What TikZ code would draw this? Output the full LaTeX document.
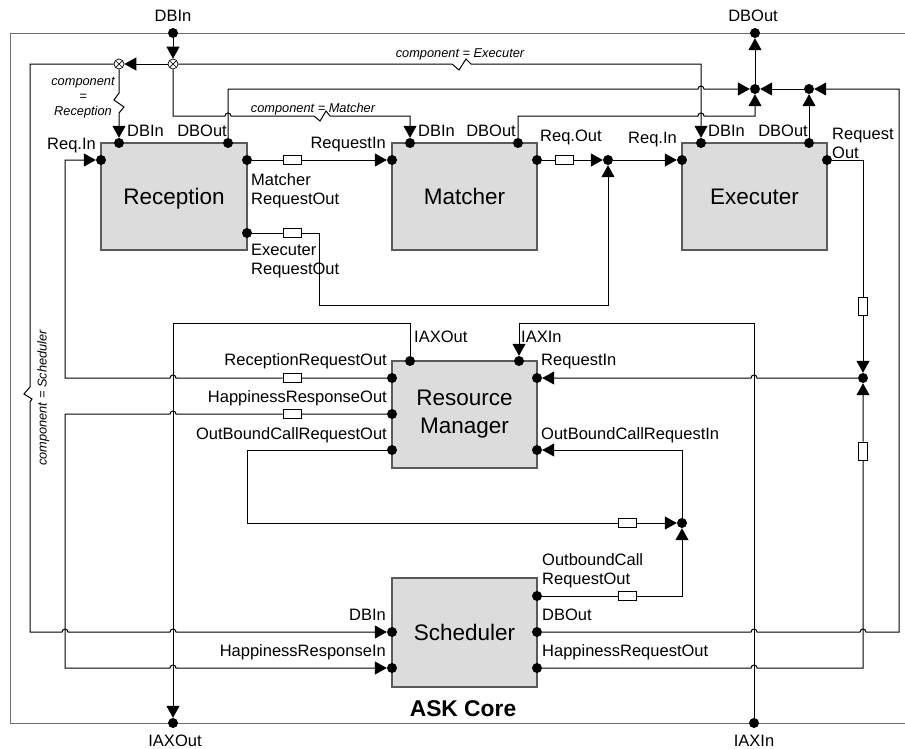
\documentclass[tikz,border=0pt]{standalone}
\usepackage{fontspec}
\setmainfont{Liberation Sans}
\usetikzlibrary{arrows.meta}
\definecolor{boxfill}{RGB}{220,220,220}
\definecolor{boxline}{RGB}{90,90,90}
\definecolor{framec}{RGB}{110,110,110}
\begin{document}
\begin{tikzpicture}[x=1pt,y=-1pt,
  comp/.style={draw=boxline, fill=boxfill, line width=1.2pt, inner sep=0pt,
    font=\fontsize{22.5}{28}\selectfont, align=center},
  port/.style={circle, fill=black, inner sep=0pt, minimum size=10pt},
  xjoin/.style={circle, draw=black, fill=white, line width=0.7pt, inner sep=0pt, minimum size=10pt,
    path picture={\draw[line width=0.7pt]
      (path picture bounding box.south west) -- (path picture bounding box.north east)
      (path picture bounding box.north west) -- (path picture bounding box.south east);}},
  sigh/.style={draw=black, fill=white, line width=0.8pt, inner sep=0pt,
    minimum width=18pt, minimum height=9pt},
  sigv/.style={sigh, minimum width=9pt, minimum height=18pt},
  wire/.style={draw=black, line width=1pt},
  conn/.style={wire, -{Triangle[length=12pt,width=13pt]}},
  lbl/.style={inner sep=0pt, font=\fontsize{16.5}{19}\selectfont},
  cond/.style={inner sep=0pt, font=\fontsize{12.8}{15}\selectfont\itshape},
]
\useasboundingbox (0,0) rectangle (905,748);
\clip (0,0) rectangle (905,748);

% enclosing component frame
\draw[draw=framec, line width=1pt] (915,33) -- (10,33) -- (10,723) -- (915,723);

% components
\node[comp, minimum width=146pt, minimum height=107pt, text height=16pt, text depth=0pt]
  (rec) at (174,196.5) {Reception};
\node[comp, minimum width=145pt, minimum height=107pt, text height=16pt, text depth=0pt]
  (mat) at (464.5,196.5) {Matcher};
\node[comp, minimum width=145pt, minimum height=107pt, text height=16pt, text depth=0pt]
  (exe) at (754.5,196.5) {Executer};
\node[comp, minimum width=145pt, minimum height=107pt]
  (rm) at (464.5,414.5) {Resource\\Manager};
\node[comp, minimum width=145pt, minimum height=109pt, text height=16pt, text depth=0pt]
  (sch) at (464.5,632.5) {Scheduler};

% boundary ports
\node[port] (p-dbin) at (173,33) {};
\node[port] (p-dbout) at (755,33) {};
\node[port] (p-iaxout) at (173,723) {};
\node[port] (p-iaxin) at (754,723) {};

% component ports
\node[port] (rec-reqin) at (101,160) {};
\node[port] (rec-dbin) at (119,143) {};
\node[port] (rec-dbout) at (228,143) {};
\node[port] (rec-mro) at (247,160) {};
\node[port] (rec-ero) at (247,233) {};

\node[port] (mat-reqin) at (392,160) {};
\node[port] (mat-dbin) at (410,143) {};
\node[port] (mat-dbout) at (518,143) {};
\node[port] (mat-reqout) at (537,160) {};

\node[port] (exe-reqin) at (682,160) {};
\node[port] (exe-dbin) at (701,143) {};
\node[port] (exe-dbout) at (809,143) {};
\node[port] (exe-reqout) at (827,160) {};

\node[port] (rm-iaxout) at (410,361) {};
\node[port] (rm-iaxin) at (519,361) {};
\node[port] (rm-rro) at (392,378) {};
\node[port] (rm-hro) at (392,414) {};
\node[port] (rm-obcro) at (392,450) {};
\node[port] (rm-reqin) at (537,378) {};
\node[port] (rm-obcri) at (537,450) {};

\node[port] (sch-dbin) at (392,632) {};
\node[port] (sch-hri) at (392,668) {};
\node[port] (sch-obcro) at (537,596) {};
\node[port] (sch-dbout) at (537,632) {};
\node[port] (sch-hro) at (537,668) {};

% junctions
\node[xjoin] (x1) at (173,64) {};
\node[xjoin] (x2) at (119,64) {};
\node[port] (j1) at (755,89) {};
\node[port] (j2) at (809,89) {};
\node[port] (j3) at (608,160) {};
\node[port] (j4) at (863,378) {};
\node[port] (j5) at (682,523) {};

% delay elements on the request lines
\node[sigh] (r1) at (292,160) {};
\node[sigh] (r2) at (292,233) {};
\node[sigh] (r3) at (564,160) {};
\node[sigv] (r4) at (863,306) {};
\node[sigh] (r5) at (292,378) {};
\node[sigh] (r6) at (292,414) {};
\node[sigh] (r7) at (627,523) {};
\node[sigh] (r8) at (627,596) {};
\node[sigv] (r9) at (863,451) {};

% database connections
\draw[conn] (p-dbin) -- (x1);
\draw[conn] (x1) -- (x2);
\draw[conn] (x2) -- (119,93) -- (114,100) -- (124,107) -- (119,113) -- (rec-dbin);
\draw[conn] (x2) -- (30,64) -- (30,387) -- (24,394) -- (32,399) -- (30,402) -- (30,632)
  -- (62,632) .. controls (62,628) and (68,628) .. (68,632)
  -- (170,632) .. controls (170,628) and (176,628) .. (176,632) -- (sch-dbin);
\draw[conn] (x1) -- (452,64) -- (459,70) -- (466,59) -- (471,64) -- (701,64) -- (exe-dbin);
\draw[conn] (x1) -- (173,116)
  -- (225,116) .. controls (225,112) and (231,112) .. (231,116)
  -- (314,116) -- (320,121) -- (326,111) -- (330,116) -- (410,116) -- (mat-dbin);
\draw[conn] (rec-dbout) -- (228,89)
  -- (698,89) .. controls (698,85) and (704,85) .. (704,89) -- (j1);
\draw[conn] (mat-dbout) -- (518,116)
  -- (698,116) .. controls (698,112) and (704,112) .. (704,116) -- (755,116) -- (j1);
\draw[conn] (j2) -- (j1);
\draw[conn] (j1) -- (p-dbout);
\draw[conn] (exe-dbout) -- (j2);
\draw[conn] (sch-dbout)
  -- (751,632) .. controls (751,628) and (757,628) .. (757,632)
  -- (860,632) .. controls (860,628) and (866,628) .. (866,632)
  -- (899,632) -- (899,89) -- (j2);

% request flow
\draw[conn] (rec-mro) -- (r1) -- (mat-reqin);
\draw[conn] (rec-ero) -- (r2) -- (319,233) -- (319,305) -- (608,305) -- (j3);
\draw[conn] (mat-reqout) -- (r3) -- (j3);
\draw[conn] (j3) -- (exe-reqin);
\draw[conn] (exe-reqout) -- (863,160) -- (r4) -- (j4);
\draw[conn] (sch-hro)
  -- (751,668) .. controls (751,664) and (757,664) .. (757,668)
  -- (863,668) -- (r9) -- (j4);
\draw[conn] (j4) -- (757,378) .. controls (757,374) and (751,374) .. (751,378) -- (rm-reqin);
\draw[conn] (rm-rro) -- (r5)
  -- (176,378) .. controls (176,374) and (170,374) .. (170,378)
  -- (65,378) -- (65,160) -- (rec-reqin);
\draw[conn] (rm-hro) -- (r6)
  -- (176,414) .. controls (176,410) and (170,410) .. (170,414)
  -- (65,414) -- (65,668)
  -- (170,668) .. controls (170,664) and (176,664) .. (176,668) -- (sch-hri);
\draw[conn] (rm-obcro) -- (247,450) -- (247,523) -- (r7) -- (j5);
\draw[conn] (sch-obcro) -- (r8) -- (682,596) -- (j5);
\draw[conn] (j5) -- (682,450) -- (rm-obcri);

% IAX connections
\draw[conn] (rm-iaxout) -- (410,323) -- (173,323) -- (p-iaxout);
\draw[conn] (p-iaxin) -- (754,323) -- (519,323) -- (rm-iaxin);

% port labels
\node[lbl, anchor=base] (t-dbin) at (173,21) {DBIn};
\node[lbl, anchor=base] (t-dbout) at (753,21) {DBOut};
\node[lbl, anchor=base] (t-iaxout) at (175,746) {IAXOut};
\node[lbl, anchor=base] (t-iaxin) at (754,746) {IAXIn};

\node[lbl, anchor=base east] (t-rec-reqin) at (96,149) {Req.In};
\node[lbl, anchor=base west] (t-rec-dbin) at (127,136) {DBIn};
\node[lbl, anchor=base east] (t-rec-dbout) at (227,136) {DBOut};
\node[lbl, anchor=west, align=left] (t-rec-mro) at (251,191) {Matcher\\RequestOut};
\node[lbl, anchor=west, align=left] (t-rec-ero) at (251,261) {Executer\\RequestOut};

\node[lbl, anchor=base east] (t-mat-reqin) at (386,148) {RequestIn};
\node[lbl, anchor=base west] (t-mat-dbin) at (418,136) {DBIn};
\node[lbl, anchor=base east] (t-mat-dbout) at (516,136) {DBOut};
\node[lbl, anchor=base west] (t-mat-reqout) at (540,141) {Req.Out};

\node[lbl, anchor=base east] (t-exe-reqin) at (677,143) {Req.In};
\node[lbl, anchor=base west] (t-exe-dbin) at (708,136) {DBIn};
\node[lbl, anchor=base east] (t-exe-dbout) at (808,136) {DBOut};
\node[lbl, anchor=west, align=left] (t-exe-reqout) at (832,143) {Request\\Out};

\node[lbl, anchor=base west] (t-rm-iaxout) at (414,342) {IAXOut};
\node[lbl, anchor=base west] (t-rm-iaxin) at (521,342) {IAXIn};
\node[lbl, anchor=base west] (t-rm-reqin) at (541,365) {RequestIn};
\node[lbl, anchor=base west] (t-rm-obcri) at (541,439) {OutBoundCallRequestIn};
\node[lbl, anchor=base east] (t-rm-rro) at (387,365) {ReceptionRequestOut};
\node[lbl, anchor=base east] (t-rm-hro) at (387,402) {HappinessResponseOut};
\node[lbl, anchor=base east] (t-rm-obcro) at (387,439) {OutBoundCallRequestOut};

\node[lbl, anchor=base east] (t-sch-dbin) at (386,620) {DBIn};
\node[lbl, anchor=base east] (t-sch-hri) at (386,656) {HappinessResponseIn};
\node[lbl, anchor=west, align=left] (t-sch-obcro) at (542,571) {OutboundCall\\RequestOut};
\node[lbl, anchor=base west] (t-sch-dbout) at (542,620) {DBOut};
\node[lbl, anchor=base west] (t-sch-hro) at (542,656) {HappinessRequestOut};

% routing conditions
\node[cond, anchor=base] (c-exe) at (460,57) {component = Executer};
\node[cond, anchor=base] (c-mat) at (313,112) {component = Matcher};
\node[cond, align=center] (c-rec) at (83,98) {component\\=\\Reception};
\node[cond, anchor=base, rotate=90] (c-sch) at (46.5,398) {component = Scheduler};

% title
\node[inner sep=0pt, anchor=base, font=\fontsize{22.8}{27}\selectfont\bfseries]
  (title) at (463,716) {ASK Core};
\end{tikzpicture}
\end{document}
